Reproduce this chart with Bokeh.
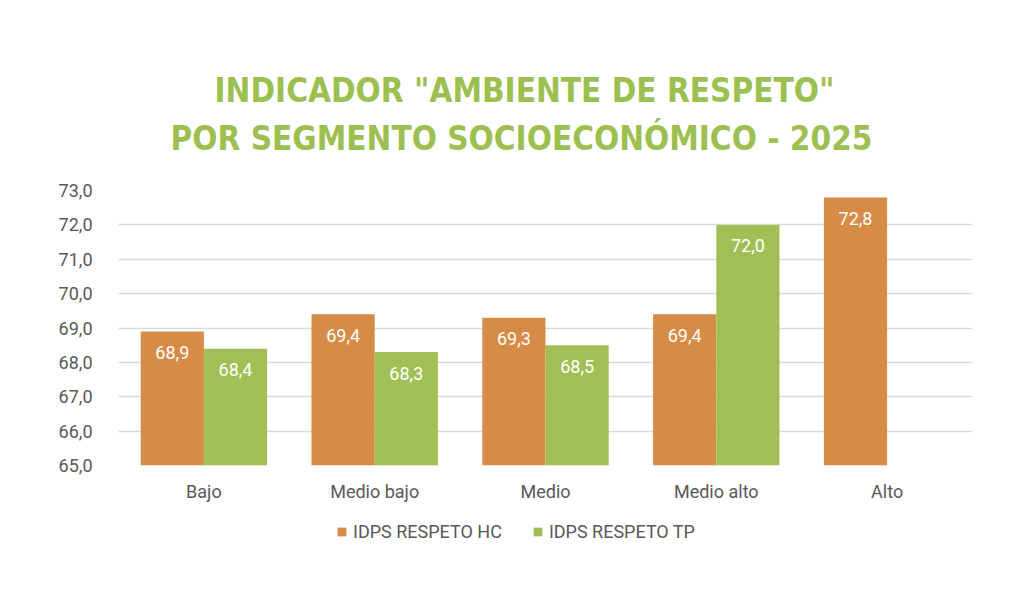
from bokeh.plotting import figure
from bokeh.models import (ColumnDataSource, FixedTicker, CustomJSTickFormatter, Legend,
                          LegendItem, Label, FactorRange, Range1d)
from bokeh.layouts import column
from bokeh.transform import dodge
from bokeh.embed import file_html
from bokeh.resources import INLINE
from bokeh.core.properties import value
import math

categories = ["Bajo", "Medio bajo", "Medio", "Medio alto", "Alto"]
hc_values = [68.9, 69.4, 69.3, 69.4, 72.8]
tp_values = [68.4, 68.3, 68.5, 72.0, float("nan")]
series_names = ["IDPS RESPETO HC", "IDPS RESPETO TP"]
y_ticks = [65, 66, 67, 68, 69, 70, 71, 72, 73]
title_lines = ['INDICADOR "AMBIENTE DE RESPETO"', "POR SEGMENTO SOCIOECONÓMICO - 2025"]

ORANGE = "#D68B47"
GREEN = "#A1BF55"
TITLE_GREEN = "#9CC050"
GRAY = "#595959"
FONT = "Roboto"
TFONT = "DejaVu Sans Condensed"
WIDTH = 1008
FRAME_L, FRAME_R = 118, 972


def fmt(v):
    return f"{v:.1f}".replace(".", ",")


def style_blank(f):
    f.axis.visible = False
    f.grid.visible = False
    f.outline_line_color = None
    f.background_fill_color = "white"
    f.border_fill_color = "white"
    return f


# ---- title (frame aligned with the main chart: x in page pixels) ----
TH = 160
ft = figure(width=WIDTH, height=TH, output_backend="svg", toolbar_location=None,
            x_range=Range1d(FRAME_L, FRAME_R), y_range=Range1d(0, TH),
            min_border_left=FRAME_L, min_border_right=WIDTH - FRAME_R,
            min_border_top=0, min_border_bottom=0)
style_blank(ft)
ft.add_layout(Label(x=524, y=TH - 90, text=title_lines[0], text_align="center",
                    text_baseline="middle", text_font=TFONT, text_font_style="bold",
                    text_font_size="33px", text_color=TITLE_GREEN))
ft.add_layout(Label(x=521, y=TH - 138, text=title_lines[1], text_align="center",
                    text_baseline="middle", text_font=TFONT, text_font_style="bold",
                    text_font_size="33px", text_color=TITLE_GREEN))

# ---- main chart ----
src_hc = ColumnDataSource(dict(cat=categories, val=hc_values, lab=[fmt(v) for v in hc_values]))
tp_cats = [c for c, v in zip(categories, tp_values) if not math.isnan(v)]
tp_vals = [v for v in tp_values if not math.isnan(v)]
src_tp = ColumnDataSource(dict(cat=tp_cats, val=tp_vals, lab=[fmt(v) for v in tp_vals]))

p = figure(x_range=FactorRange(*categories, range_padding=0), y_range=(65, 73),
           width=WIDTH, height=345, output_backend="svg", toolbar_location=None,
           min_border_left=FRAME_L, min_border_right=WIDTH - FRAME_R,
           min_border_top=30, min_border_bottom=40)

W = 0.37
D = 0.185
bar_kw = dict(bottom=65, width=W, line_color=None)
r_hc = p.vbar(x=dodge("cat", -D, range=p.x_range), top="val", source=src_hc,
              fill_color=ORANGE, **bar_kw)
r_tp = p.vbar(x=dodge("cat", D, range=p.x_range), top="val", source=src_tp,
              fill_color=GREEN, **bar_kw)

for src, dx in ((src_hc, -D), (src_tp, D)):
    p.text(x=dodge("cat", dx, range=p.x_range), y="val", text="lab", source=src,
           text_color="white", text_font=value(FONT), text_font_size="18px",
           text_align="center", text_baseline="middle", y_offset=21)

p.yaxis.ticker = FixedTicker(ticks=y_ticks)
p.yaxis.formatter = CustomJSTickFormatter(code="return tick.toFixed(1).replace('.', ',');")
for ax in (p.xaxis, p.yaxis):
    ax.axis_line_color = None
    ax.major_tick_line_color = None
    ax.minor_tick_line_color = None
    ax.major_label_text_color = GRAY
    ax.major_label_text_font = FONT
    ax.major_label_text_font_size = "18px"
p.yaxis.major_label_standoff = 20
p.xaxis.major_label_standoff = 9

p.xgrid.grid_line_color = None
p.ygrid.grid_line_color = "#D9D9D9"
p.ygrid.grid_line_width = 1.3
p.outline_line_color = None
p.background_fill_color = "white"
p.border_fill_color = "white"

# ---- legend: category strings on a numeric scale give no position,
#      so only the legend swatches of these renderers are drawn ----
LH = 80
fl = figure(width=WIDTH, height=LH, output_backend="svg", toolbar_location=None,
            x_range=Range1d(0, 1), y_range=Range1d(0, 1),
            min_border_left=FRAME_L, min_border_right=WIDTH - FRAME_R,
            min_border_top=0, min_border_bottom=0)
style_blank(fl)
lr_hc = fl.vbar(x="cat", top="val", source=src_hc, fill_color=ORANGE, **bar_kw)
lr_tp = fl.vbar(x="cat", top="val", source=src_tp, fill_color=GREEN, **bar_kw)
legend = Legend(items=[LegendItem(label=series_names[0], renderers=[lr_hc]),
                       LegendItem(label=series_names[1], renderers=[lr_tp])],
                orientation="horizontal", location=(342 - FRAME_L - 6, LH - 26 - 17 + 6),
                label_text_font=FONT, label_text_font_size="18px", label_text_color=GRAY,
                glyph_width=11, glyph_height=11, spacing=30, label_standoff=6,
                border_line_color=None, background_fill_alpha=0, margin=0, padding=6)
fl.add_layout(legend, "center")

layout = column(ft, p, fl, spacing=0)
open("out.html", "w").write(file_html(layout, INLINE))
